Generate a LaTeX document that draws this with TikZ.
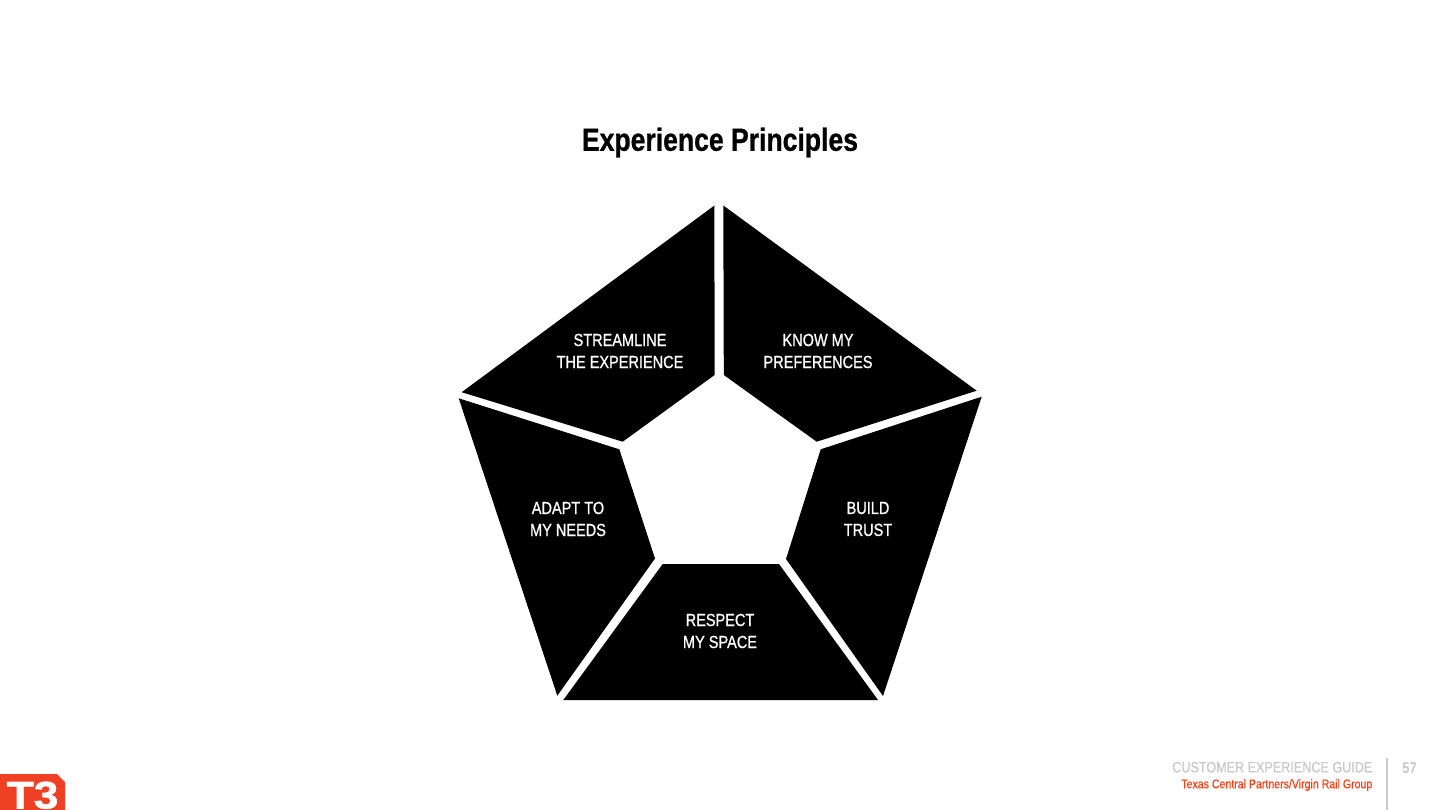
\documentclass[tikz,border=0pt]{standalone}
\usepackage{fontspec}
\setmainfont{Liberation Sans}
\newfontfamily\condfont[FakeStretch=0.83,FakeBold=0.9]{Liberation Sans}
\newfontfamily\footfont[FakeStretch=0.84,FakeBold=0.4]{Liberation Sans}
\newfontfamily\titlefont[FakeStretch=0.83,FakeBold=0.8]{Liberation Sans Bold}
\newfontfamily\pagefont[FakeStretch=0.84]{Liberation Sans Bold}
\newfontfamily\logofont[FakeStretch=1.15,FakeBold=1.5]{Liberation Sans Bold}
\definecolor{footgrey}{HTML}{C9C9C9}
\definecolor{t3red}{HTML}{F04023}
\definecolor{subred}{HTML}{FF3D12}
\tikzset{
  seg/.style={fill=black,draw=none},
  seglabel/.style={text=white,align=center,inner sep=0pt,font=\condfont\fontsize{17.5}{22}\selectfont},
}
\begin{document}
\begin{tikzpicture}[x=1pt,y=-1pt]
\useasboundingbox (0,0) rectangle (1440,810);
\fill[white] (0,0) rectangle (1440,810);
\node[inner sep=0pt,font=\titlefont\fontsize{32}{38}\selectfont] (title) at (720,142.5) {Experience Principles};
% pentagon segments
\fill[seg] (723.3,205.5) -- (976.7,390.7) -- (816.7,441.7) -- (723.8,375) -- cycle;
\fill[seg] (714.4,205.5) -- (461.7,392.2) -- (622.7,441.7) -- (714.6,375) -- cycle;
\fill[seg] (458.7,398.3) -- (619.3,449.3) -- (655,558.5) -- (557.3,695.7) -- cycle;
\fill[seg] (563.3,700) -- (662.7,564) -- (779,564) -- (878,700) -- cycle;
\fill[seg] (981.7,396.7) -- (820.7,449.3) -- (786,559) -- (883,696) -- cycle;
\node[seglabel] (streamline) at (620,351) {STREAMLINE\\THE EXPERIENCE};
\node[seglabel] (know) at (818,351) {KNOW MY\\PREFERENCES};
\node[seglabel] (adapt) at (568,519) {ADAPT TO\\MY NEEDS};
\node[seglabel] (build) at (868,519) {BUILD\\TRUST};
\node[seglabel] (respect) at (720,631) {RESPECT\\MY SPACE};
% logo
\fill[t3red] (0,774) -- (57,774) -- (65,782) -- (65,810) -- (0,810) -- cycle;
\node[anchor=base west,inner sep=0pt,text=white,font=\logofont\fontsize{38.5}{40}\selectfont] (logo) at (6.5,808.5) {T3};
% footer
\node[anchor=east,inner sep=0pt,text=footgrey,font=\footfont\fontsize{15}{18}\selectfont] (guide) at (1372.5,767.2) {CUSTOMER EXPERIENCE GUIDE};
\node[anchor=east,inner sep=0pt,text=subred,font=\footfont\fontsize{12.6}{14}\selectfont] (client) at (1372.5,785) {Texas Central Partners/Virgin Rail Group};
\coordinate (ruletop) at (1387,758);
\coordinate (rulebot) at (1387,810);
\draw[footgrey,line width=1.4pt] (ruletop) -- (rulebot);
\node[inner sep=0pt,text=footgrey,font=\pagefont\fontsize{15.5}{18}\selectfont] (page) at (1409.5,768.5) {57};
\end{tikzpicture}
\end{document}
